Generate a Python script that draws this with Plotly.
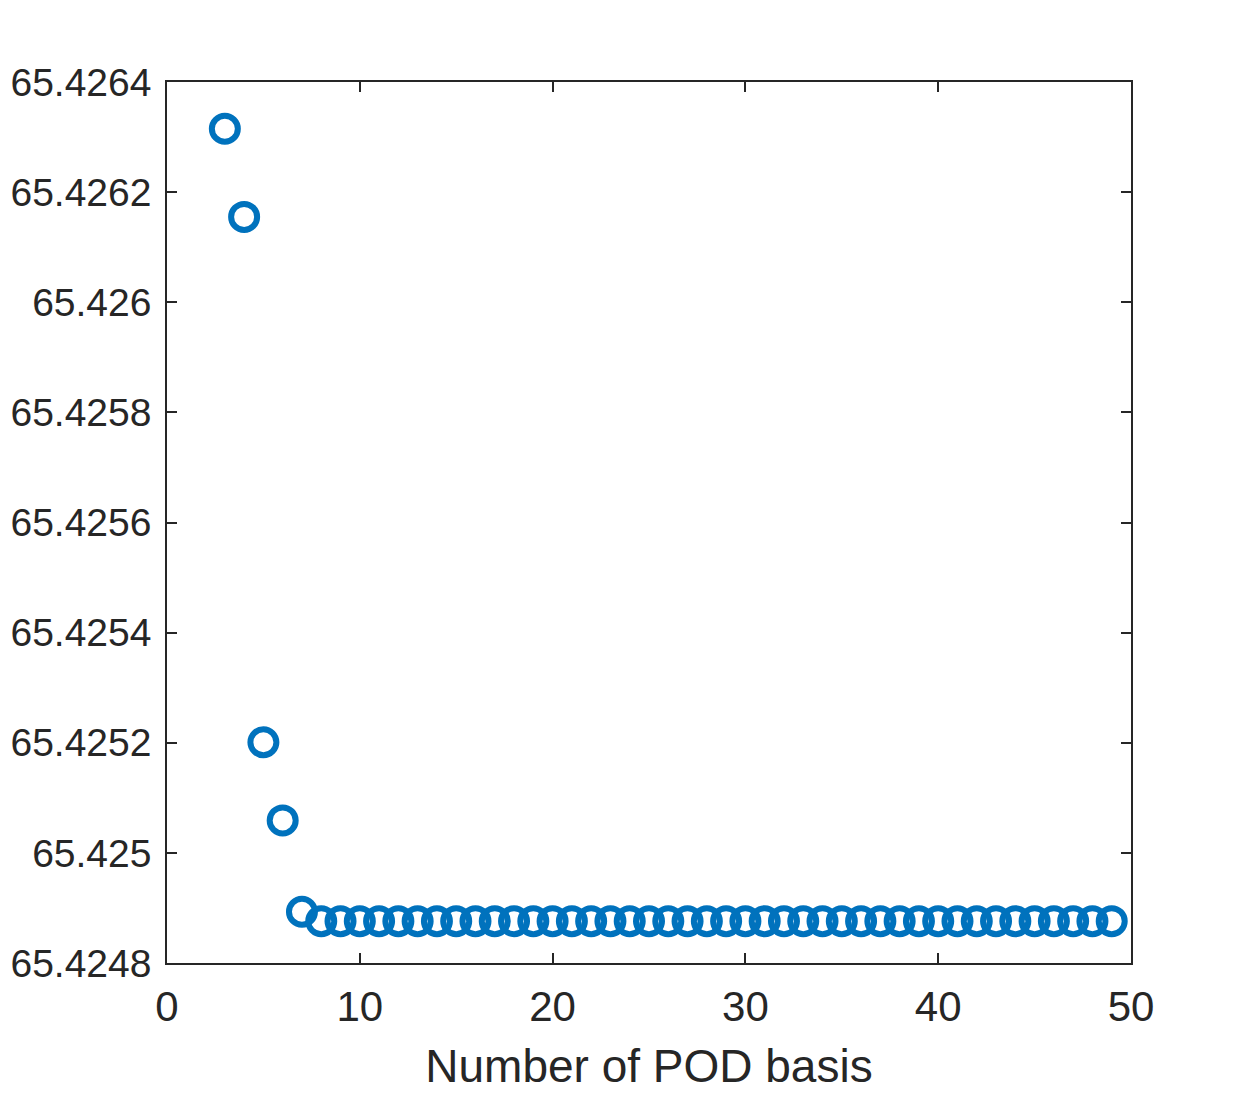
import plotly.graph_objects as go

# number of POD basis functions and the corresponding values
n_basis = list(range(3, 50))
values = [65.426315, 65.426155, 65.425201, 65.425059, 65.424893] + [65.424876] * 42

y_ticks = [65.4248, 65.425, 65.4252, 65.4254, 65.4256, 65.4258, 65.426, 65.4262, 65.4264]
y_labels = ["65.4248", "65.425", "65.4252", "65.4254", "65.4256", "65.4258", "65.426", "65.4262", "65.4264"]

axis_color = "#262626"
font = "Liberation Sans, Arial, sans-serif"

fig = go.Figure()
fig.add_trace(go.Scatter(
    x=n_basis, y=values,
    mode="markers",
    marker=dict(symbol="circle-open", size=26, color="#0072BD",
                line=dict(width=6, color="#0072BD")),
    showlegend=False,
))

fig.update_xaxes(
    range=[0, 50], tickvals=[0, 10, 20, 30, 40, 50],
    ticks="inside", ticklen=10, tickwidth=1.5, tickcolor=axis_color,
    showline=True, linecolor=axis_color, linewidth=1.5, mirror="ticks",
    showgrid=False, zeroline=False,
    tickfont=dict(size=42, color=axis_color, family=font),
    ticklabelstandoff=6,
    title=dict(text="Number of POD basis", font=dict(size=46, color=axis_color, family=font),
               standoff=21),
    automargin=False,
)
fig.update_yaxes(
    range=[65.4248, 65.4264], tickvals=y_ticks, ticktext=y_labels,
    ticks="inside", ticklen=10, tickwidth=1.5, tickcolor=axis_color,
    showline=True, linecolor=axis_color, linewidth=1.5, mirror="ticks",
    showgrid=False, zeroline=False,
    tickfont=dict(size=39, color=axis_color, family=font),
    ticklabelstandoff=6,
    automargin=False,
)
fig.update_layout(
    width=1250, height=1094,
    margin=dict(l=159, r=127, t=74, b=139),
    plot_bgcolor="white", paper_bgcolor="white",
)
fig.write_html("out.html")
